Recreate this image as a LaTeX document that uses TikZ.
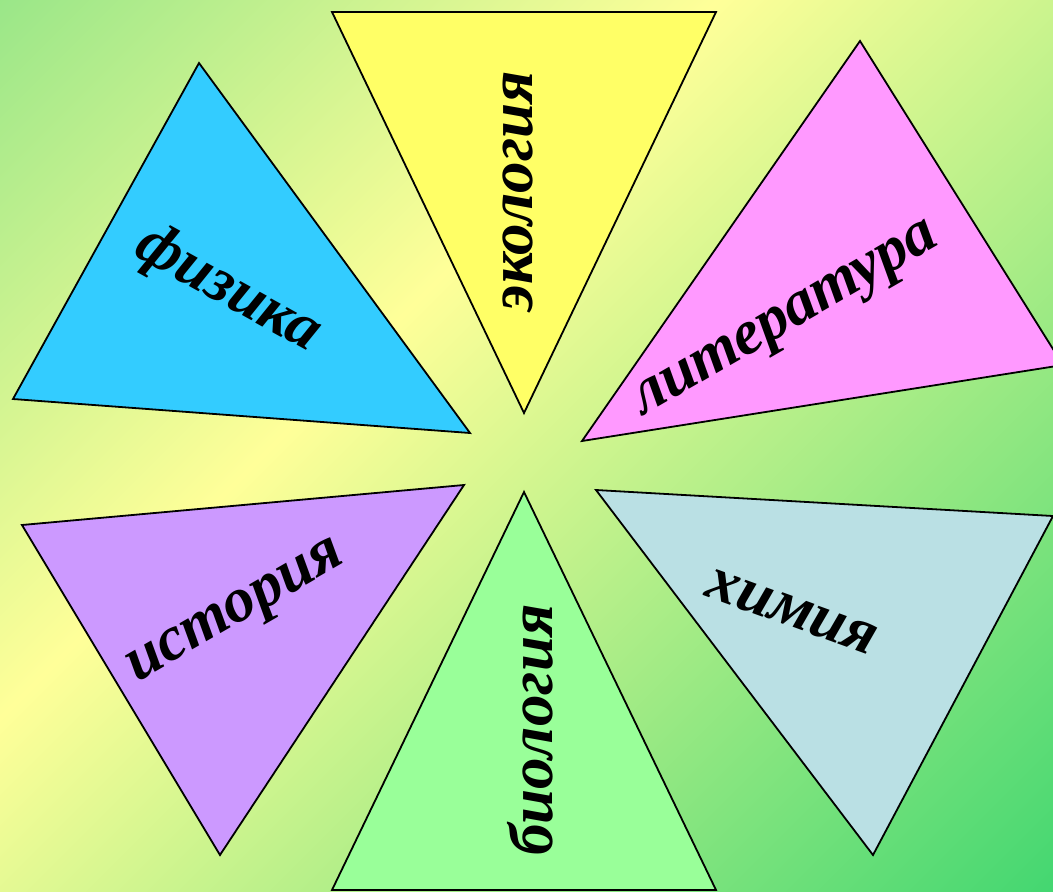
\documentclass[tikz,border=0pt]{standalone}
\usepackage{fontspec}
\setmainfont{Liberation Serif}
\definecolor{bgA}{RGB}{152,230,136}
\definecolor{bgY}{RGB}{255,255,153}
\definecolor{bgB}{RGB}{64,214,112}
\definecolor{cYel}{RGB}{255,255,102}
\definecolor{cBlue}{RGB}{51,204,255}
\definecolor{cPink}{RGB}{255,153,255}
\definecolor{cPurp}{RGB}{204,153,255}
\definecolor{cGreen}{RGB}{153,255,153}
\definecolor{cIce}{RGB}{186,224,228}
\pgfdeclarehorizontalshading{bgshade}{100bp}{color(0bp)=(bgA); color(25bp)=(bgA); color(43.5bp)=(bgY); color(75bp)=(bgB); color(100bp)=(bgB)}
\begin{document}
\begin{tikzpicture}[x=1pt,y=1pt,
  tri/.style={draw=black, line width=1.8pt, line join=miter},
  lab/.style={font=\fontsize{63}{66}\selectfont\bfseries\itshape, inner sep=0pt}]
\useasboundingbox (0,0) rectangle (1053,-892);
\begin{scope}
\clip (0,0) rectangle (1053,-892);
\begin{scope}[transform canvas={rotate=-45}]
\shade[shading=bgshade] (-10,-640) rectangle (1390,760);
\end{scope}
\draw[tri, fill=cYel] (332,-12) -- (716,-12) -- (524,-413) -- cycle;
\draw[tri, fill=cBlue] (199,-63) -- (13,-399) -- (470,-433) -- cycle;
\draw[tri, fill=cPink] (860,-41) -- (1063,-365) -- (582,-441) -- cycle;
\draw[tri, fill=cPurp] (22,-525) -- (464,-485) -- (220,-855) -- cycle;
\draw[tri, fill=cGreen] (524,-492) -- (332,-890) -- (716,-890) -- cycle;
\draw[tri, fill=cIce] (596,-490) -- (1053,-516) -- (873,-855) -- cycle;
\end{scope}
\node[lab, rotate=90] (ekol) at (518,-191) {экология};
\node[lab, rotate=90] (biol) at (530,-730) {биология};
\node[lab, rotate=-29] (fiz) at (228,-290) {физика};
\node[lab, rotate=30] (lit) at (788,-323) {литература};
\node[lab, rotate=30] (ist) at (238,-615) {история};
\node[lab, rotate=-20] (him) at (792,-612) {химия};
\end{tikzpicture}
\end{document}
